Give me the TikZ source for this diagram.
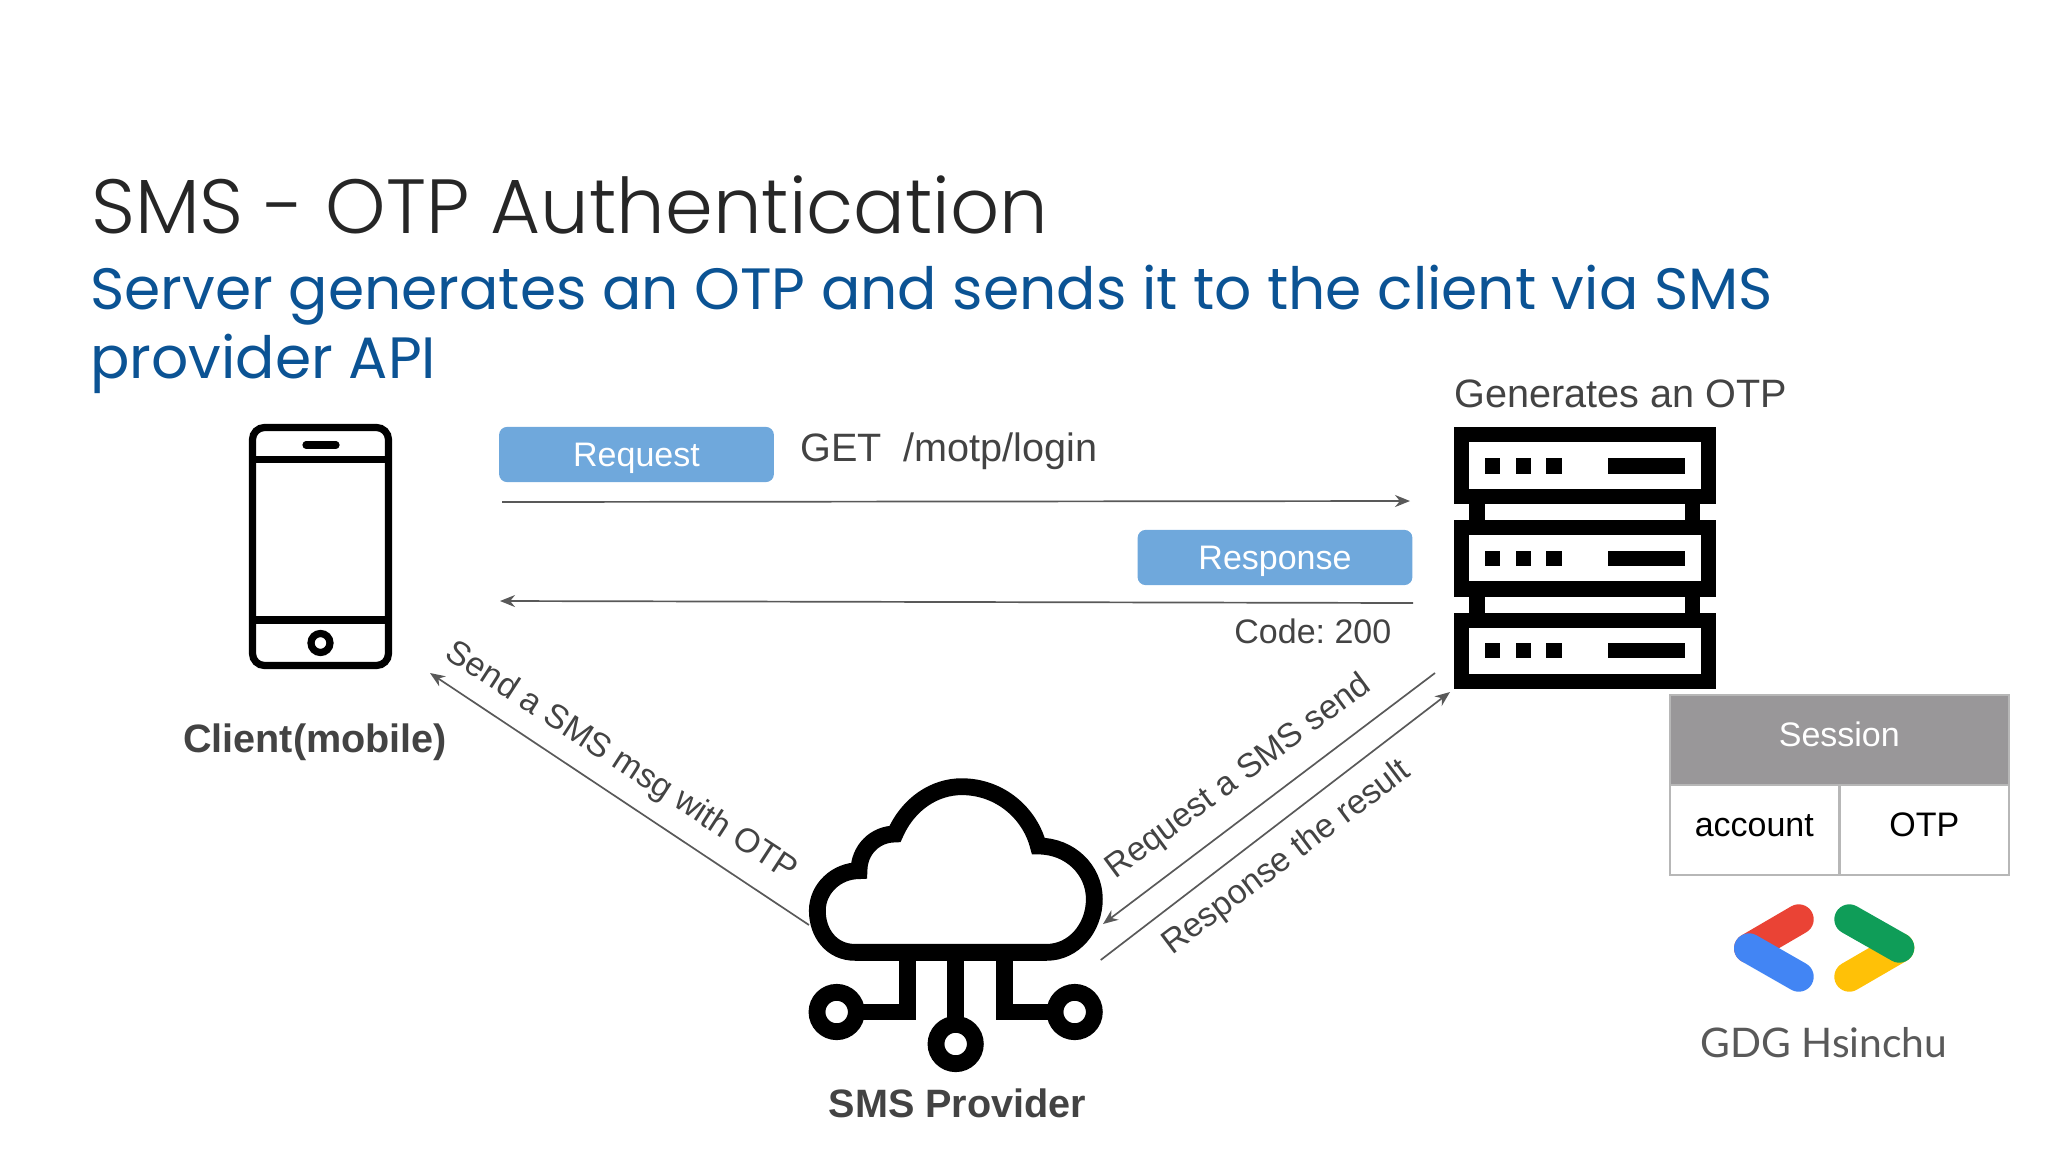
\documentclass[tikz,border=0pt]{standalone}
\usepackage{fontspec}
\setmainfont{Liberation Sans}
\newfontfamily\headfont{Poppins Light}
\newfontfamily\subfont{Poppins}
\newfontfamily\logofont{Lato}
\usetikzlibrary{arrows.meta}
\definecolor{inkgray}{HTML}{434343}
\definecolor{linegray}{HTML}{595959}
\definecolor{boxblue}{HTML}{6FA8DC}
\definecolor{subblue}{HTML}{0B5394}
\definecolor{headgray}{HTML}{999799}
\definecolor{cellgray}{HTML}{B7B7B7}
\definecolor{logored}{HTML}{EA4335}
\definecolor{logoblue}{HTML}{4285F4}
\definecolor{logogreen}{HTML}{0F9D58}
\definecolor{logoyellow}{HTML}{FFC107}
\tikzset{
  labeltext/.style={text=inkgray,font=\fontsize{19.8}{24}\selectfont,anchor=base west,inner sep=0pt},
  boldtext/.style={text=inkgray,font=\fontsize{19.8}{24}\selectfont\bfseries,anchor=base,inner sep=0pt},
  slanttext/.style={text=inkgray,font=\fontsize{16.9}{20}\selectfont,inner sep=0pt},
  bluebox/.style={fill=boxblue,rounded corners=4pt,minimum width=137.4pt,minimum height=27.6pt,text=white,
    font=\fontsize{17}{20}\selectfont,inner sep=0pt,text height=12.2pt,text depth=0pt},
  headcell/.style={draw=cellgray,fill=headgray,line width=1pt,minimum width=169.5pt,minimum height=45pt,text=white,
    font=\fontsize{17}{20}\selectfont,inner sep=0pt,text height=12.2pt,text depth=5pt},
  datacell/.style={draw=cellgray,line width=1pt,minimum width=84.75pt,minimum height=45pt,text=black,
    font=\fontsize{17}{20}\selectfont,inner sep=0pt,text height=12.2pt,text depth=5pt},
  msgline/.style={draw=linegray,line width=0.85pt,-{Stealth[length=7.5pt,width=6pt]}},
  iconline/.style={draw=black,line width=3.6pt},
  cloudline/.style={draw=black,line width=8.4pt},
  logoline/.style={line width=15pt,line cap=round}
}
\begin{document}
\frenchspacing
\begin{tikzpicture}[x=0.5pt,y=-0.5pt]
  \useasboundingbox (0,0) rectangle (2048,1152);
  \node[anchor=base west,inner sep=0pt,text=black!85,font=\fontsize{38.4}{46}\headfont] (title) at (91,233) {SMS - OTP Authentication};
  \node[anchor=base west,inner sep=0pt,text=subblue,font=\fontsize{29.15}{34}\subfont] (subone) at (90,309) {Server generates an OTP and sends it to the client via SMS};
  \node[anchor=base west,inner sep=0pt,text=subblue,font=\fontsize{29.15}{34}\subfont] (subtwo) at (90,378) {provider API};

  \draw[iconline,rounded corners=6pt] (252.5,427.5) rectangle (388.5,665.5);
  \draw[iconline] (252.5,459.5) -- (388.5,459.5);
  \draw[iconline] (252.5,620) -- (388.5,620);
  \draw[iconline,line cap=round] (306,445) -- (336,445);
  \draw[iconline] (320.5,643) circle (4.75pt);
  \node[boldtext] (client) at (315,752) {Client(mobile)};

  \node[bluebox] (request) at (636.5,454.5) {Request};
  \node[labeltext] (getline) at (800,461) {GET\ \ /motp/login};
  \node[bluebox] (response) at (1275,557.5) {Response};
  \node[labeltext,font=\fontsize{17}{20}\selectfont] (code) at (1234,643) {Code: 200};
  \node[labeltext] (generates) at (1454,407) {Generates an OTP};

  \fill[black] (1469.4,500) rectangle (1484.7,615);
  \fill[black] (1685,500) rectangle (1700.4,615);
  \fill[black] (1453.7,427) rectangle (1716,504);
  \fill[black] (1453.7,520) rectangle (1716,596.7);
  \fill[black] (1453.7,612.5) rectangle (1716,689.3);
  \fill[white] (1469.2,442) rectangle (1700.8,489);
  \fill[white] (1469.2,535.3) rectangle (1700.8,581.3);
  \fill[white] (1469.2,627.7) rectangle (1700.8,674);
  \fill[black] (1484.7,458.3) rectangle (1500,473.7);
  \fill[black] (1515.7,458.3) rectangle (1531,473.7);
  \fill[black] (1546,458.3) rectangle (1562,473.7);
  \fill[black] (1608,458.3) rectangle (1685,473.7);
  \fill[black] (1484.7,550.7) rectangle (1500,566.3);
  \fill[black] (1515.7,550.7) rectangle (1531,566.3);
  \fill[black] (1546,550.7) rectangle (1562,566.3);
  \fill[black] (1608,550.7) rectangle (1685,566.3);
  \fill[black] (1484.7,643) rectangle (1500,658.3);
  \fill[black] (1515.7,643) rectangle (1531,658.3);
  \fill[black] (1546,643) rectangle (1562,658.3);
  \fill[black] (1608,643) rectangle (1685,658.3);

  \begin{scope}[shift={(780,760)},scale=1/3]
    \draw[cloudline,fill=white,miter limit=10] (800,577) -- (225,577) .. controls (155,577) and (112,520) .. (112,452)
      .. controls (112,385) and (170,332) .. (237,332) .. controls (237,270) and (285,222) .. (345,222)
      .. controls (385,130) and (465,80) .. (545,80) .. controls (660,80) and (750,160) .. (775,258)
      .. controls (870,258) and (943,330) .. (943,417) .. controls (943,505) and (880,577) .. (800,577) -- cycle;
    \draw[cloudline] (381.5,603) -- (381.5,756) -- (229,756);
    \draw[cloudline] (527,603) -- (527,793);
    \draw[cloudline] (674.5,603) -- (674.5,756) -- (825,756);
    \draw[cloudline] (170,756) circle (29.5pt);
    \draw[cloudline] (527,852) circle (29.5pt);
    \draw[cloudline] (884,756) circle (29.5pt);
  \end{scope}
  \node[boldtext] (provider) at (957.5,1117) {SMS Provider};

  \coordinate (reqfrom) at (502,502);
  \coordinate (reqto) at (1410,501);
  \coordinate (respfrom) at (1413,603);
  \coordinate (respto) at (500,601);
  \coordinate (sendfrom) at (809,925);
  \coordinate (sendto) at (430,673);
  \coordinate (askfrom) at (1435,673);
  \coordinate (askto) at (1103,924);
  \coordinate (ansfrom) at (1100.7,960);
  \coordinate (ansto) at (1450,692);
  \draw[msgline] (reqfrom) -- (reqto);
  \draw[msgline] (respfrom) -- (respto);
  \draw[msgline] (sendfrom) -- (sendto);
  \draw[msgline] (askfrom) -- (askto);
  \draw[msgline] (ansfrom) -- (ansto);
  \node[slanttext,rotate=-33] (sendtext) at (621,762) {Send a SMS msg with OTP};
  \node[slanttext,rotate=36.5] (asktext) at (1239,777) {Request a SMS send};
  \node[slanttext,rotate=37] (anstext) at (1287,858) {Response the result};

  \node[headcell] (session) at (1839.3,739.5) {Session};
  \node[datacell] (account) at (1754.3,829.5) {account};
  \node[datacell] (otpcell) at (1924.3,829.5) {OTP};

  \draw[logoline,draw=logored] (1798.7,919.3) -- (1749,948.3);
  \draw[logoline,draw=logoblue] (1749,948.3) -- (1798.7,976.7);
  \draw[logoline,draw=logoyellow] (1849.3,976.7) -- (1899.3,947.7);
  \draw[logoline,draw=logogreen] (1849.3,919.3) -- (1899.3,947.7);
  \node[anchor=base west,inner sep=0pt,text=linegray,font=\fontsize{20.4}{24}\logofont] (gdg) at (1700,1057) {GDG Hsinchu};
\end{tikzpicture}
\end{document}
